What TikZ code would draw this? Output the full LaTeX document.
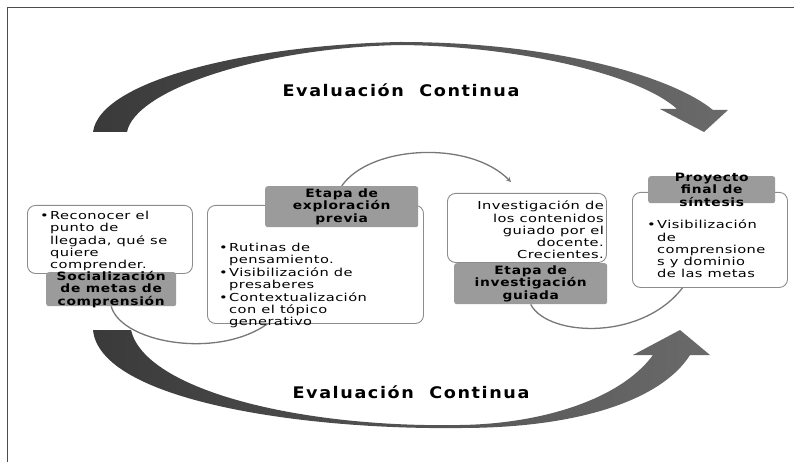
\documentclass[tikz,border=0pt]{standalone}
\usepackage{fontspec}
\setmainfont{DejaVu Sans}[LetterSpace=4, FakeStretch=1.33]
\newfontfamily\labelfont{DejaVu Sans}[LetterSpace=6, FakeStretch=1.2]
\newfontfamily\evalfont{DejaVu Sans}[LetterSpace=10, FakeStretch=1.1]
\usetikzlibrary{arrows.meta,backgrounds}
\definecolor{arrowdark}{HTML}{3A3A3A}
\definecolor{arrowlight}{HTML}{6A6A6A}
\definecolor{labelgray}{HTML}{9B9B9B}
\definecolor{boxline}{HTML}{8C8C8C}
\definecolor{arcgray}{HTML}{777777}
\newenvironment{bulletlist}{\begin{tabular}{@{}p{10pt}@{}l@{}}}{\end{tabular}}
\begin{document}
\begin{tikzpicture}[x=1pt,y=-1pt,
    evaltext/.style={font=\evalfont\bfseries\fontsize{16}{18}\selectfont, inner sep=0pt},
    textbox/.style={draw=boxline, line width=0.9pt, fill=white, rounded corners=8pt, anchor=north west, inner sep=0pt},
    stagelabel/.style={fill=labelgray, rounded corners=2.5pt, anchor=north west, inner sep=0pt},
    labeltext/.style={font=\labelfont\bfseries\fontsize{11.5}{12.4}\selectfont, align=center, inner sep=0pt},
    bodytext/.style={font=\fontsize{11}{12.2}\selectfont, inner sep=0pt, anchor=north west},
    cyclearc/.style={draw=arcgray, line width=1.3pt}]

    \useasboundingbox (0,0) rectangle (794,462);

    % Frame (left and top edges only)
    \draw[gray!60!black, line width=0.8pt] (7,462) -- (7,7) -- (794,7);

    % Upper curved arrow
    \shade[left color=arrowdark, right color=arrowlight]
      (93,132) .. controls (100,80) and (250,45) .. (400,42)
      .. controls (550,42) and (670,75) .. (713,110)
      -- (728,110) -- (704,132) -- (660,109) -- (677,109)
      .. controls (640,75) and (520,46) .. (400,45)
      .. controls (260,48) and (135,90) .. (127,132) -- cycle;

    % Lower curved arrow
    \shade[left color=arrowdark, right color=arrowlight]
      (93,330) .. controls (100,400) and (300,430) .. (460,428)
      .. controls (590,428) and (665,395) .. (690,355)
      -- (710,355) -- (680,330) -- (633,355) -- (653,355)
      .. controls (620,400) and (540,424) .. (460,425)
      .. controls (300,428) and (145,390) .. (131,330) -- cycle;

    \node[evaltext] (evalTop) at (401,90) {Evaluación\ \ Continua};
    \node[evaltext] (evalBottom) at (411,392) {Evaluación\ \ Continua};

    % Stage 1
    \node[textbox, minimum width=165pt, minimum height=68pt] (boxA) at (27,205) {};
    \node[bodytext] (txtA) at (40,211) {\begin{bulletlist}
      • & Reconocer el\\ & punto de\\ & llegada, qué se\\ & quiere\\ & comprender.
    \end{bulletlist}};
    \node[stagelabel, minimum width=130pt, minimum height=34pt] (lblA) at (46,272) {};
    \node[labeltext] (lblAtext) at (lblA.center) {Socialización\\de metas de\\comprensión};

    % Stage 2
    \node[textbox, minimum width=216pt, minimum height=118pt] (boxB) at (207,205) {};
    \node[bodytext] (txtB) at (219,243) {\begin{bulletlist}
      • & Rutinas de\\ & pensamiento.\\ • & Visibilización de\\ & presaberes\\ • & Contextualización\\ & con el tópico\\ & generativo
    \end{bulletlist}};
    \node[stagelabel, minimum width=153pt, minimum height=41pt] (lblB) at (265,186) {};
    \node[labeltext] (lblBtext) at (lblB.center) {Etapa de\\exploración\\previa};

    % Stage 3
    \node[textbox, minimum width=159pt, minimum height=69pt] (boxC) at (447,193) {};
    \node[bodytext, anchor=north east, align=right] (txtC) at (604,201) {Investigación de\\los contenidos\\guiado por el\\docente.\\Crecientes.};
    \node[stagelabel, minimum width=153pt, minimum height=41pt] (lblC) at (454,263) {};
    \node[labeltext] (lblCtext) at (lblC.center) {Etapa de\\investigación\\guiada};

    % Stage 4
    \node[textbox, minimum width=155pt, minimum height=95pt] (boxD) at (632,192) {};
    \node[bodytext] (txtD) at (647,220) {\begin{bulletlist}
      • & Visibilización\\ & de\\ & comprensione\\ & s y dominio\\ & de las metas
    \end{bulletlist}};
    \node[stagelabel, minimum width=127pt, minimum height=27pt] (lblD) at (648,176) {};
    \node[labeltext] (lblDtext) at (lblD.center) {Proyecto\\final de\\síntesis};

    % Cycle arcs behind the boxes
    \begin{pgfonlayer}{background}
      \draw[cyclearc, -{Stealth[length=5pt,width=5pt]}] (lblB.north) .. controls (370,145) and (470,140) .. ([xshift=-16pt,yshift=11pt]boxC.north);
      \draw[cyclearc] (lblA.south) .. controls (122,345) and (230,362) .. ([xshift=70pt,yshift=8pt]boxB.south west);
      \draw[cyclearc] (lblC.south) .. controls (548,338) and (650,342) .. ([xshift=-22pt,yshift=8pt]boxD.south);
    \end{pgfonlayer}
\end{tikzpicture}
\end{document}
